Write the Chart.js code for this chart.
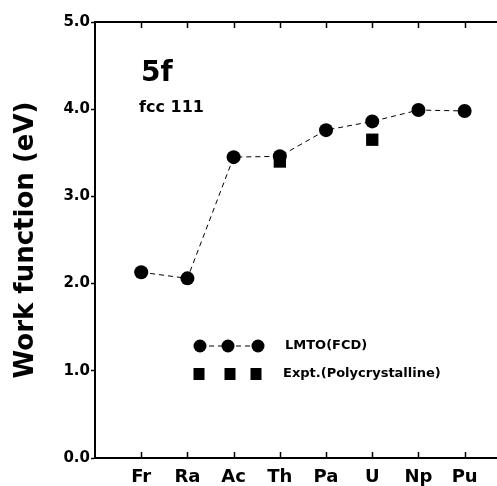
<!DOCTYPE html>
<html>
<head>
<meta charset="utf-8">
<script src="https://cdn.jsdelivr.net/npm/chart.js@4.4.0/dist/chart.umd.min.js"></script>
<style>
  body { margin: 0; background: #fff; }
  canvas { display: block; }
</style>
</head>
<body>
<canvas id="myChart" width="497" height="486"></canvas>
<script>
// datos
const elementos = ['Fr', 'Ra', 'Ac', 'Th', 'Pa', 'U', 'Np', 'Pu'];
const lmto = [2.13, 2.06, 3.45, 3.46, 3.76, 3.86, 3.99, 3.98];
const expt = [null, null, null, 3.40, null, 3.65, null, null];
const yTicks = [0, 1, 2, 3, 4, 5];

const FONT = '"DejaVu Sans", sans-serif';

const toPoints = arr => arr
    .map((v, i) => ({ x: i + 1, y: v }))
    .filter(p => p.y !== null);

// ticks hacia dentro, borde superior, leyenda y rotulos
const extras = {
    id: 'extras',
    afterDraw(chart) {
        const ctx = chart.ctx;
        const area = chart.chartArea;
        const xs = chart.scales.x;
        ctx.save();
        ctx.strokeStyle = '#000';
        ctx.fillStyle = '#000';

        // borde superior
        ctx.lineWidth = 2;
        ctx.beginPath();
        ctx.moveTo(area.left - 1, area.top);
        ctx.lineTo(area.right, area.top);
        ctx.stroke();

        // ticks de categorias
        ctx.lineWidth = 1.5;
        elementos.forEach((el, i) => {
            const px = Math.round(xs.getPixelForValue(i + 1)) + 0.5;
            ctx.beginPath();
            ctx.moveTo(px, area.bottom);
            ctx.lineTo(px, area.bottom - 6);
            ctx.moveTo(px, area.top);
            ctx.lineTo(px, area.top + 6);
            ctx.stroke();
        });

        // rotulos
        ctx.textAlign = 'left';
        ctx.textBaseline = 'alphabetic';
        ctx.font = 'bold 28px ' + FONT;
        ctx.fillText('5f', 141, 81);
        ctx.font = 'bold 16px ' + FONT;
        ctx.fillText('fcc 111', 139, 112);

        // leyenda
        const cx = [200, 228, 258];
        ctx.lineWidth = 1;
        ctx.setLineDash([5, 4]);
        ctx.beginPath();
        ctx.moveTo(cx[0], 346);
        ctx.lineTo(cx[2], 346);
        ctx.stroke();
        ctx.setLineDash([]);
        cx.forEach(x => {
            ctx.beginPath();
            ctx.arc(x, 346, 6.5, 0, Math.PI * 2);
            ctx.fill();
        });
        [199, 230, 256].forEach(x => {
            ctx.fillRect(x - 5.5, 368, 11, 12);
        });
        ctx.font = 'bold 13px ' + FONT;
        ctx.textBaseline = 'middle';
        ctx.fillText('LMTO(FCD)', 285, 346);
        ctx.fillText('Expt.(Polycrystalline)', 283, 374);
        ctx.restore();
    }
};

const ctx = document.getElementById('myChart');

new Chart(ctx, {
    type: 'scatter',
    data: {
        datasets: [{
            label: 'LMTO(FCD)',
            data: toPoints(lmto),
            showLine: true,
            borderColor: '#000',
            borderWidth: 1,
            borderDash: [5, 4],
            pointRadius: 7,
            pointHoverRadius: 7,
            pointBackgroundColor: '#000',
            pointBorderWidth: 0,
            order: 1
        }, {
            label: 'Expt.(Polycrystalline)',
            data: toPoints(expt),
            showLine: false,
            pointStyle: 'rect',
            pointRadius: 8.7,
            pointHoverRadius: 8.7,
            pointBackgroundColor: '#000',
            pointBorderWidth: 0,
            order: 2
        }]
    },
    options: {
        responsive: false,
        animation: false,
        devicePixelRatio: 1,
        layout: {
            autoPadding: false,
            padding: { top: 22, right: 0, bottom: 0, left: 0 }
        },
        plugins: {
            legend: { display: false },
            tooltip: { enabled: false }
        },
        scales: {
            x: {
                type: 'linear',
                min: 0,
                max: 8.7,
                afterFit: s => {
                    s.height = 28;
                    s.paddingLeft = 0;
                    s.paddingRight = 0;
                },
                afterBuildTicks: s => {
                    s.ticks = elementos.map((e, i) => ({ value: i + 1 }));
                },
                ticks: {
                    color: '#000',
                    font: { family: FONT, weight: 'bold', size: 18 },
                    padding: 9,
                    maxRotation: 0,
                    callback: v => elementos[v - 1] || ''
                },
                grid: { display: false, drawTicks: false },
                border: { display: true, color: '#000', width: 2 }
            },
            y: {
                min: 0,
                max: 5,
                afterFit: s => { s.width = 95; },
                afterBuildTicks: s => {
                    s.ticks = yTicks.map(v => ({ value: v }));
                },
                ticks: {
                    color: '#000',
                    font: { family: FONT, weight: 'bold', size: 15 },
                    padding: 1,
                    callback: v => v.toFixed(1)
                },
                grid: {
                    display: true,
                    drawOnChartArea: false,
                    drawTicks: true,
                    tickLength: 4,
                    tickColor: '#000',
                    tickWidth: 1.5
                },
                border: { display: true, color: '#000', width: 2 },
                title: {
                    display: true,
                    text: 'Work function (eV)',
                    color: '#000',
                    font: { family: FONT, weight: 'bold', size: 26 },
                    padding: { top: 11, bottom: 0 }
                }
            }
        }
    },
    plugins: [extras]
});
</script>
</body>
</html>
